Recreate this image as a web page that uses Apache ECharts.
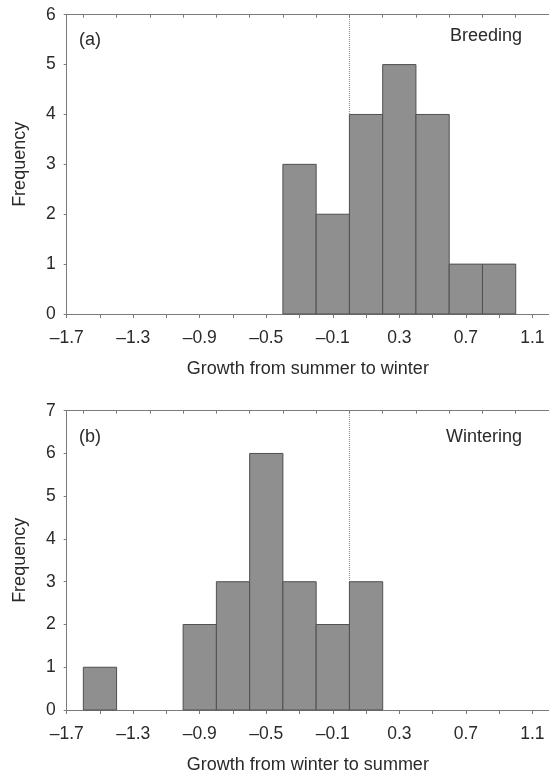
<!DOCTYPE html>
<html><head><meta charset="utf-8">
<script src="https://cdn.jsdelivr.net/npm/echarts@6/dist/echarts.min.js"></script>
<style>html,body{margin:0;padding:0;background:#fff}#c{width:549px;height:775px}</style>
</head><body><div id="c"></div>
<script>
// ---- data ----
const binWidth = 0.2;
const breedingBinStarts = [-0.4, -0.2, 0.0, 0.2, 0.4, 0.6, 0.8];
const breedingCounts    = [3, 2, 4, 5, 4, 1, 1];
const winteringBinStarts = [-1.6, -1.0, -0.8, -0.6, -0.4, -0.2, 0.0];
const winteringCounts    = [1, 2, 3, 6, 3, 2, 3];
const xLabelValues = [-1.7, -1.3, -0.9, -0.5, -0.1, 0.3, 0.7, 1.1];
const xBottomTicks = [-1.7, -1.5, -1.3, -1.1, -0.9, -0.7, -0.5, -0.3, -0.1, 0.1, 0.3, 0.5, 0.7, 0.9, 1.1];
const xTopTicks = [-1.6, -1.4, -1.2, -1.0, -0.8, -0.6, -0.4, -0.2, 0.0, 0.2, 0.4, 0.6, 0.8, 1.0];
const refLineX = 0;
const panelTitles = ['Breeding', 'Wintering'];
const panelTags = ['(a)', '(b)'];
const xNames = ['Growth from summer to winter', 'Growth from winter to summer'];
const yMax = [6, 7];

const FONT = 'Liberation Sans, Arial, Helvetica, sans-serif';
const TXT = '#2a2a2a';
const AX = '#7a7a7a';

function fmt(v) {
  const r = Math.round(v * 10) / 10;
  return (r < 0 ? '\u2013' : '') + Math.abs(r).toFixed(1);
}
function bins(starts, counts) {
  return starts.map((s, i) => [s, Math.round((s + binWidth) * 10) / 10, counts[i]]);
}
function renderBar(params, api) {
  const p0 = api.coord([api.value(0), api.value(2)]);
  const p1 = api.coord([api.value(1), 0]);
  return {
    type: 'rect',
    shape: { x: p0[0], y: p0[1], width: p1[0] - p0[0], height: p1[1] - p0[1] },
    style: { fill: '#8f8f8f', stroke: '#505050', lineWidth: 1 }
  };
}

const grids = [
  { left: 66.7, top: 14.7, width: 483.3, height: 299.3 },
  { left: 66.7, top: 410.7, width: 483.3, height: 301 }
];

const xAxes = [], yAxes = [], series = [];
[0, 1].forEach(g => {
  xAxes.push({
    type: 'value', gridIndex: g, position: 'bottom', min: -1.7, max: 1.2,
    name: xNames[g], nameLocation: 'middle', nameGap: 46,
    nameTextStyle: { fontFamily: FONT, fontSize: 18, color: TXT },
    axisLine: { show: true, onZero: false, lineStyle: { color: AX, width: 1 } },
    axisTick: { show: true, customValues: xBottomTicks, length: 4, inside: false, lineStyle: { color: AX } },
    axisLabel: { customValues: xLabelValues, formatter: fmt, margin: 15, fontFamily: FONT, fontSize: 17.5, color: TXT },
    splitLine: { show: false }
  });
  xAxes.push({
    type: 'value', gridIndex: g, position: 'top', min: -1.7, max: 1.2,
    axisLine: { show: true, onZero: false, lineStyle: { color: AX, width: 1 } },
    axisTick: { show: true, customValues: xTopTicks, length: 3, inside: true, lineStyle: { color: AX } },
    axisLabel: { show: false },
    splitLine: { show: false }
  });
  yAxes.push({
    type: 'value', gridIndex: g, min: 0, max: yMax[g], interval: 1,
    name: 'Frequency', nameLocation: 'middle', nameGap: 38, nameRotate: 90,
    nameTextStyle: { fontFamily: FONT, fontSize: 18, color: TXT },
    axisLine: { show: true, onZero: false, lineStyle: { color: AX, width: 1 } },
    axisTick: { show: true, length: 3, lineStyle: { color: AX } },
    axisLabel: { margin: 11, fontFamily: FONT, fontSize: 17.5, color: TXT },
    splitLine: { show: false }
  });
  series.push({
    type: 'line', xAxisIndex: g * 2, yAxisIndex: g, symbol: 'none', silent: true, z: 1,
    data: [[refLineX, 0], [refLineX, yMax[g]]],
    lineStyle: { color: '#8a8a8a', width: 1, type: 'dotted' }
  });
  series.push({
    type: 'custom', xAxisIndex: g * 2, yAxisIndex: g, z: 2,
    renderItem: renderBar,
    encode: { x: [0, 1], y: 2 },
    data: g === 0 ? bins(breedingBinStarts, breedingCounts) : bins(winteringBinStarts, winteringCounts)
  });
});

const chart = echarts.init(document.getElementById('c'), null, { renderer: 'canvas' });
chart.setOption({
  animation: false,
  backgroundColor: '#fff',
  grid: grids,
  xAxis: xAxes,
  yAxis: yAxes,
  series: series,
  graphic: [
    { type: 'text', left: 79, top: 31, style: { text: panelTags[0], font: '18px ' + FONT, fill: TXT } },
    { type: 'text', right: 27, top: 27, style: { text: panelTitles[0], font: '18px ' + FONT, fill: TXT } },
    { type: 'text', left: 79, top: 428, style: { text: panelTags[1], font: '18px ' + FONT, fill: TXT } },
    { type: 'text', right: 27, top: 428, style: { text: panelTitles[1], font: '18px ' + FONT, fill: TXT } }
  ]
});
</script>
</body></html>
